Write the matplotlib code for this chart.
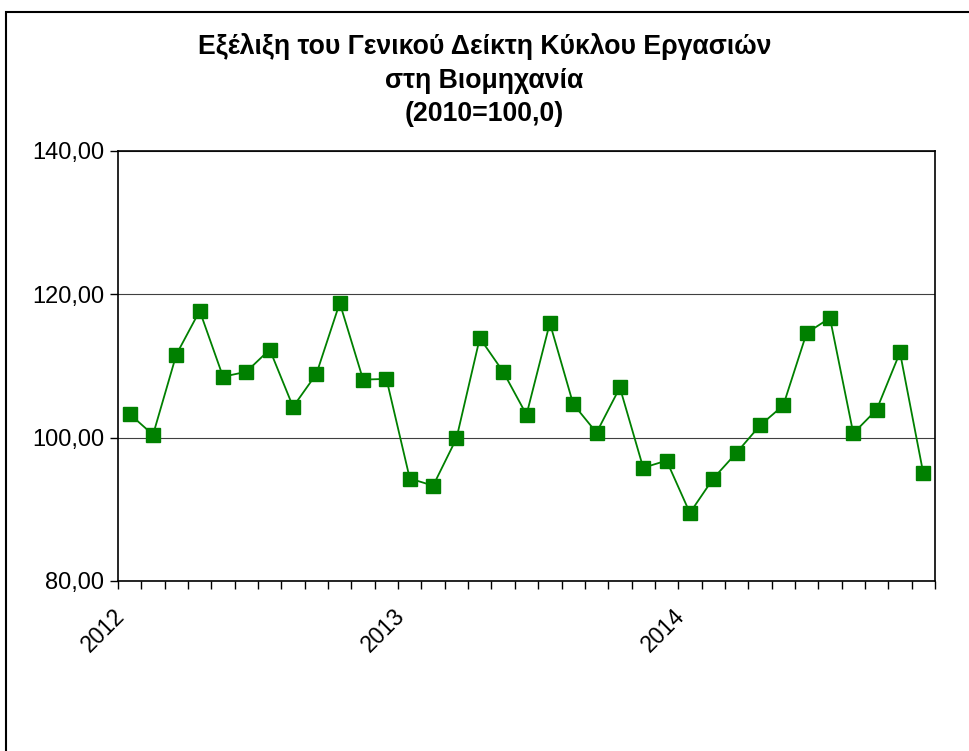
import matplotlib.pyplot as plt
from matplotlib.patches import Rectangle
from matplotlib.transforms import ScaledTranslation
import numpy as np

plt.rcParams['font.family'] = ['Liberation Sans', 'DejaVu Sans']

# Monthly index values, Jan 2012 - Nov 2014
values = [103.3, 100.4, 111.6, 117.7, 108.5, 109.2, 112.3, 104.3, 108.9, 118.8,
          108.1, 108.2, 94.3, 93.3, 99.9, 113.9, 109.2, 103.2, 116.0, 104.7,
          100.7, 107.0, 95.8, 96.8, 89.5, 94.3, 97.9, 101.7, 104.5, 114.6,
          116.7, 100.6, 103.9, 111.9, 95.0]
years = ['2012', '2013', '2014']
yticks = [80, 100, 120, 140]

title = 'Εξέλιξη του Γενικού Δείκτη Κύκλου Εργασιών\nστη Βιομηχανία\n(2010=100,0)'

fig = plt.figure(figsize=(9.69, 7.51), dpi=100)
fig.patches.append(Rectangle((0.006, -0.1), 1.1, 1.084, transform=fig.transFigure,
                             fill=False, edgecolor='black', linewidth=1.5))
ax = fig.add_axes([118 / 969, 1 - 581 / 751, (935 - 118) / 969, (581 - 151) / 751])

x = np.arange(len(values))
ax.plot(x, values, color='#008000', linewidth=1.3, marker='s', markersize=9.5,
        markerfacecolor='#008000', markeredgecolor='#008000')

ax.set_xlim(-0.5, len(values) - 0.5)
ax.set_ylim(80, 140)
ax.set_yticks(yticks)
ax.set_yticklabels([f'{v:.2f}'.replace('.', ',') for v in yticks], fontsize=17)
ax.yaxis.grid(True, color='#404040', linewidth=0.8)
ax.set_axisbelow(True)

ax.set_xticks(np.arange(-0.5, len(values), 12))
ax.set_xticklabels(years, rotation=45, ha='right', va='top', rotation_mode='anchor', fontsize=16.5)
ax.set_xticks(np.arange(-0.5, len(values), 1), minor=True)
ax.tick_params(axis='x', which='both', length=6, width=1, direction='out', pad=11)
ax.tick_params(axis='y', length=6, width=1, direction='out', pad=4)
shift = ScaledTranslation(-5 / 100, 0, fig.dpi_scale_trans)
for lab in ax.get_xticklabels():
    lab.set_transform(lab.get_transform() + shift)

for s in ax.spines.values():
    s.set_linewidth(1.2)

fig.text(0.5, 0.956, title, ha='center', va='top', fontsize=19.2, fontweight='bold',
         linespacing=1.38)

fig.savefig('out.png', dpi=100)
